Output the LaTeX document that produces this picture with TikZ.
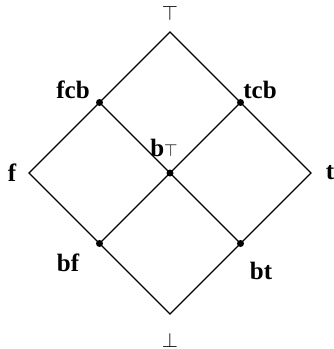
\documentclass[tikz,border=0pt]{standalone}
\usepackage{fontspec}
\setmainfont{Liberation Serif}
\begin{document}
\begin{tikzpicture}[x=1pt,y=-1pt,
  edge/.style={line width=1.2pt,black},
  lbl/.style={inner sep=0pt,font=\fontsize{25}{28}\selectfont\bfseries},
  sym/.style={inner sep=0pt,font=\fontsize{20}{24}\selectfont},
  dot/.style={circle,fill=black,inner sep=0pt,minimum size=7pt}]
\useasboundingbox (0,0) rectangle (333,349);
\coordinate (T) at (170,32);
\coordinate (B) at (170,314);
\coordinate (F) at (29,173);
\coordinate (Tr) at (311,173);
\node[dot] (fcb) at (99.5,102.5) {};
\node[dot] (tcb) at (240.5,102.5) {};
\node[dot] (bT) at (170,173) {};
\node[dot] (bf) at (99.5,243.5) {};
\node[dot] (bt) at (240.5,243.5) {};
\draw[edge] (F) -- (fcb.center) -- (T) -- (tcb.center) -- (Tr) -- (bt.center) -- (B) -- (bf.center) -- cycle;
\draw[edge] (fcb.center) -- (bT.center) -- (bt.center);
\draw[edge] (tcb.center) -- (bT.center) -- (bf.center);
\node[sym] (ltop) at (170,13) {$\top$};
\node[sym] (lbot) at (170,340) {$\bot$};
\node[lbl] (lfcb) at (73,90) {fcb};
\node[lbl] (ltcb) at (260,90) {tcb};
\node[lbl] (lf) at (12,173) {f};
\node[lbl] (lt) at (330,173) {t};
\node[lbl] (lbT) at (164,148) {b\fontsize{16}{18}\selectfont$\top$};
\node[lbl] (lbf) at (68,263) {bf};
\node[lbl] (lbt) at (261,271) {bt};
\end{tikzpicture}
\end{document}
